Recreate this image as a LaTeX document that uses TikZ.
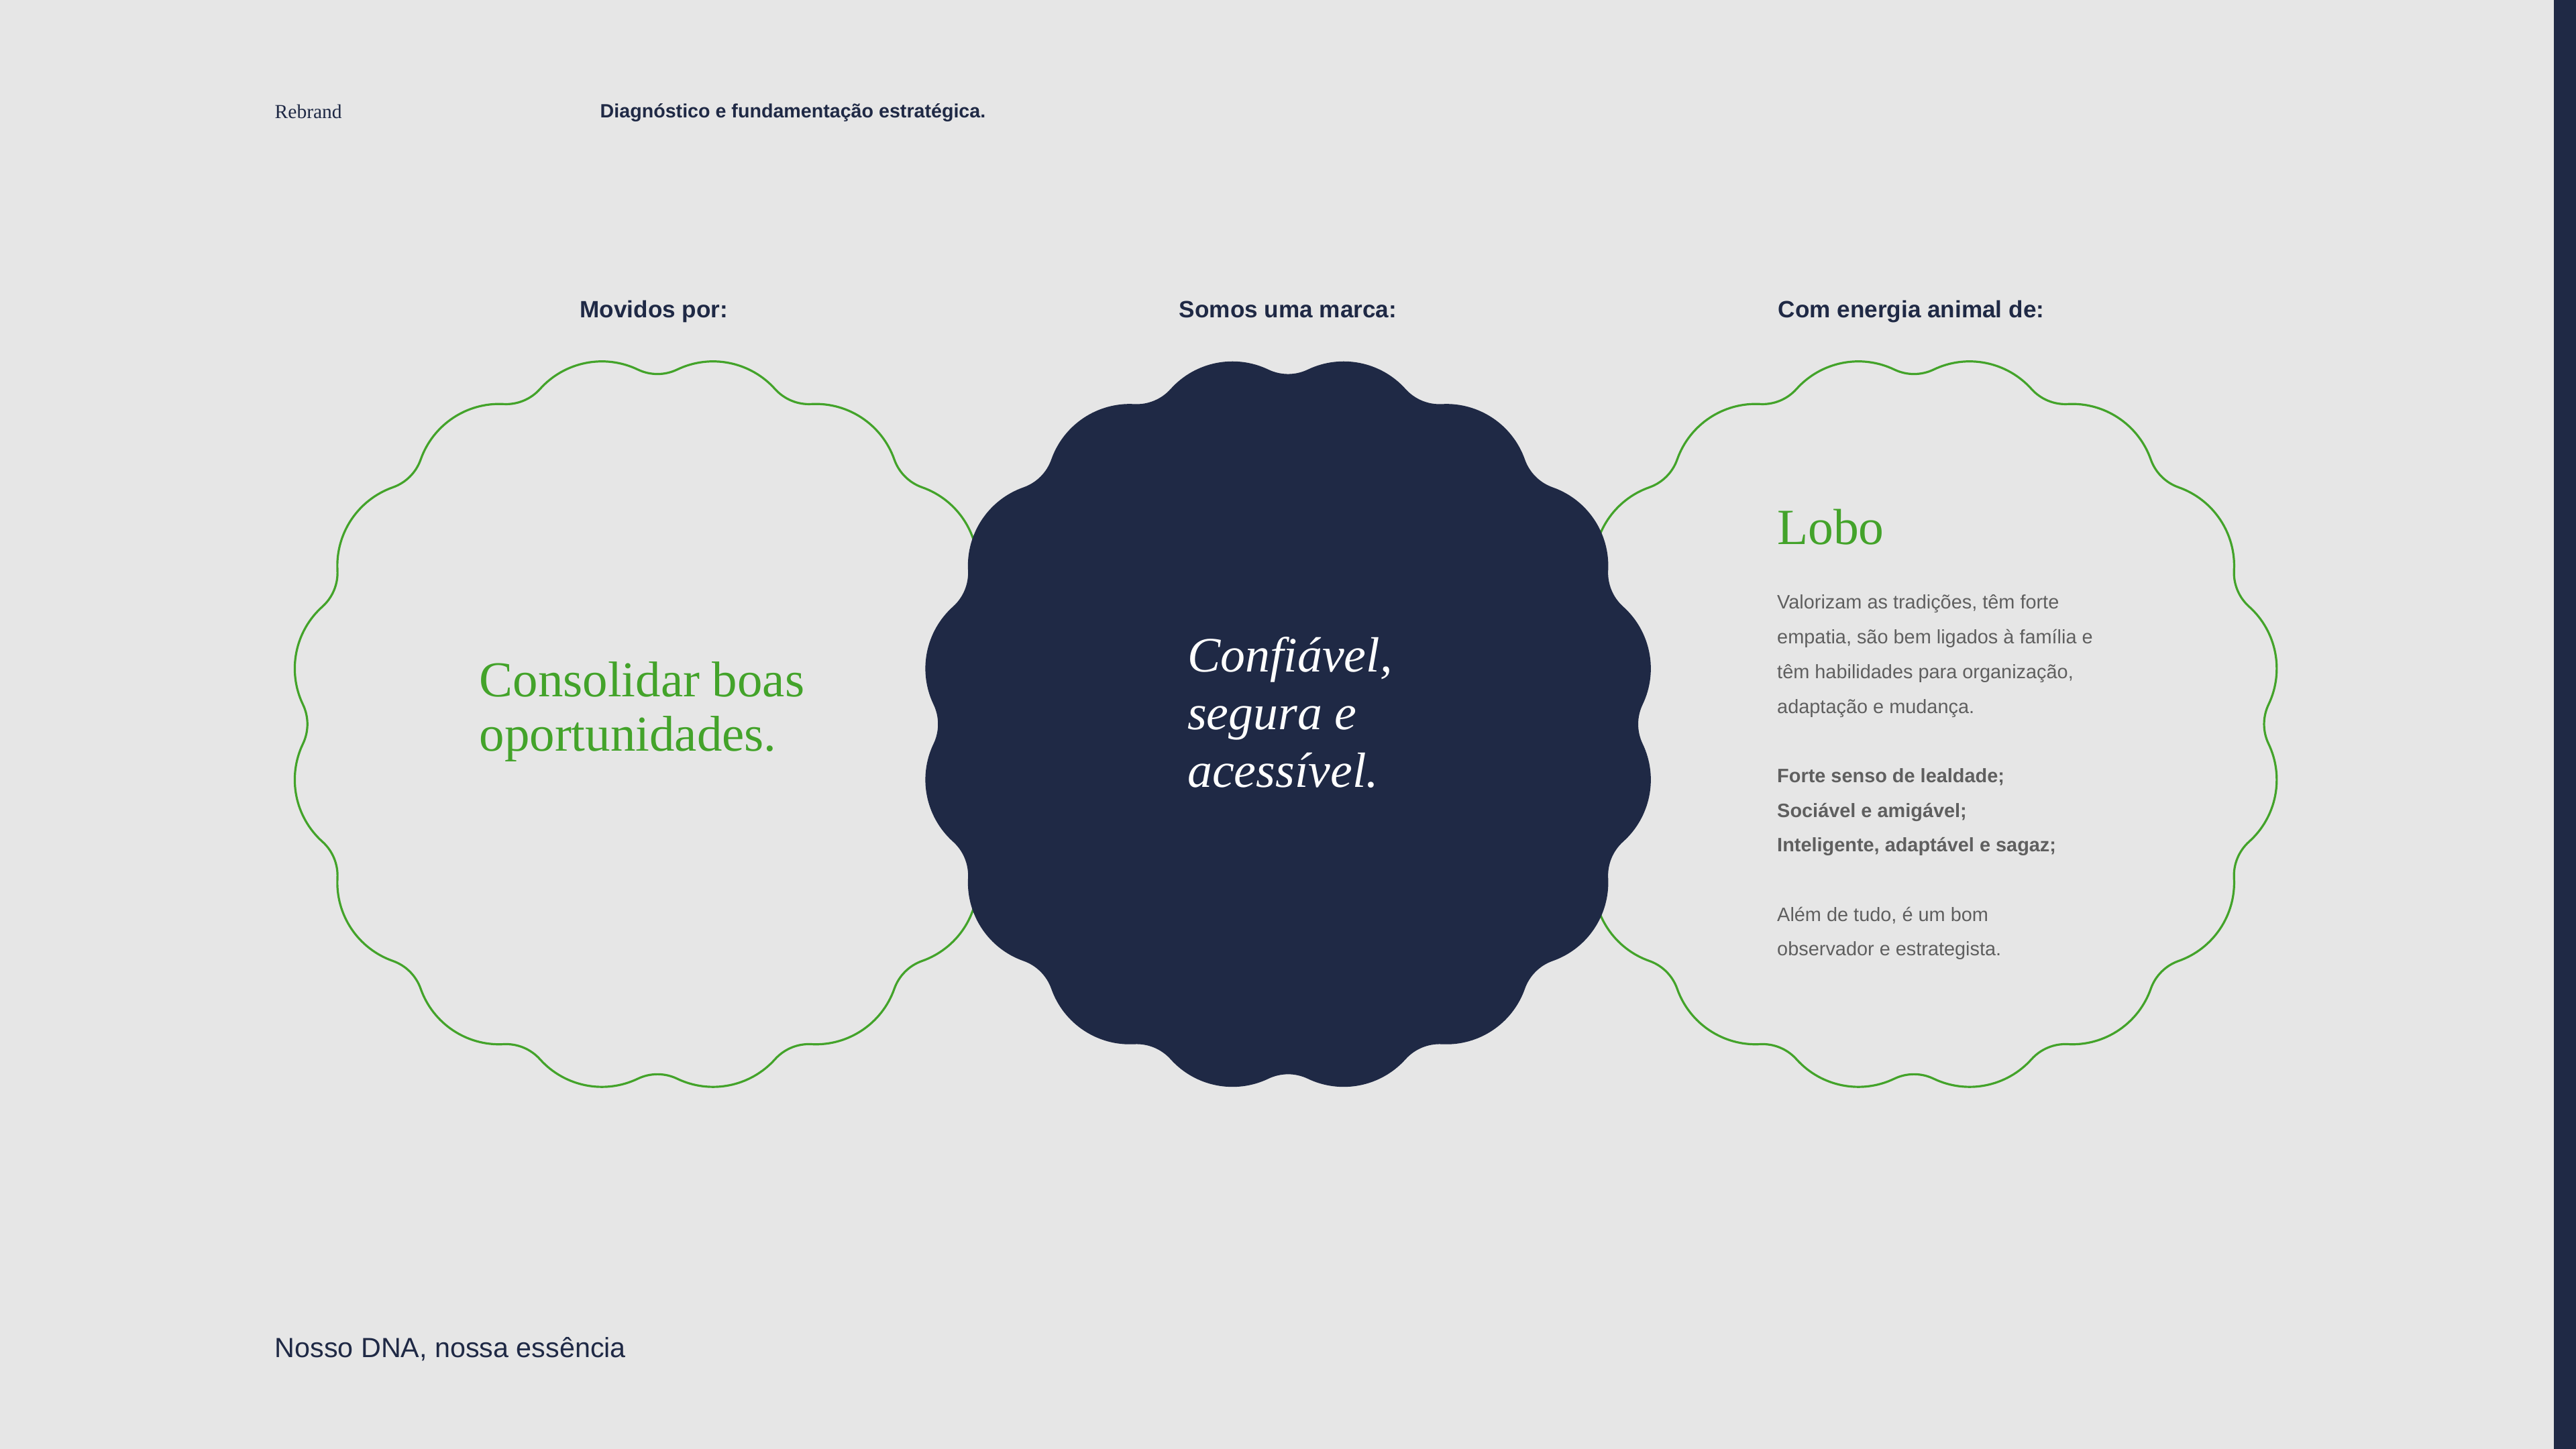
\documentclass[tikz,border=0pt]{standalone}
\usepackage{fontspec}
\setmainfont{Liberation Serif}
\setsansfont{Liberation Sans}
\usetikzlibrary{positioning}

\definecolor{paper}{HTML}{E6E6E6}
\definecolor{navy}{HTML}{1F2945}
\definecolor{leaf}{HTML}{43A32A}
\definecolor{ink}{HTML}{5F5F5F}

% 16-lobed wavy badge, drawn around the pic origin
\tikzset{
  scallop/.pic={
    \path[pic actions] (5.2867,0.2935)
      \foreach \k in {0,...,15}{
        arc[start angle=\k*22.5-25.59, end angle=\k*22.5+48.09, radius=1.24]
        arc[start angle=\k*22.5+228.09, end angle=\k*22.5+176.91, radius=0.6792]
      } -- cycle;
  }
}

\begin{document}
\begin{tikzpicture}[
        every node/.style={inner sep=0pt},
        headline/.style={anchor=base, text=navy,
          font=\sffamily\bfseries\fontsize{10pt}{12pt}\selectfont},
        wavyline/.style={draw=leaf, line width=0.032cm},
        darkblob/.style={fill=navy}
    ]
        % Page and side strip
        \useasboundingbox (0,0) rectangle (38.4,21.6);
        \fill[paper] (0,0) rectangle (38.4,21.6);
        \fill[navy] (38.07,0) rectangle (38.4,21.6);

        % Badge centres
        \coordinate (c1) at (9.80,10.805);
        \coordinate (c2) at (19.20,10.805);
        \coordinate (c3) at (28.53,10.805);

        % Outlined badges first, the filled one covers them
        \pic[wavyline] at (c1) {scallop};
        \pic[wavyline] at (c3) {scallop};
        \pic[darkblob] at (c2) {scallop};

        % Header line
        \node (brand) [anchor=base west, text=navy, font=\fontsize{8.4pt}{10pt}\selectfont]
            at (4.09,19.833) {Rebrand};
        \node (topic) [anchor=base west, text=navy, font=\sffamily\bfseries\fontsize{8.15pt}{10pt}\selectfont]
            at (8.94,19.843) {Diagnóstico e fundamentação estratégica.};

        % Column titles
        \node (movidos) [headline] at (9.75,16.86)  {Movidos por:};
        \node (somos)   [headline] at (19.20,16.86) {Somos uma marca:};
        \node (energia) [headline] at (28.49,16.86) {Com energia animal de:};

        % Badge texts (multi-line nodes sit on their last baseline)
        \node (consolidar) [anchor=base west, align=left, text=leaf,
            font=\fontsize{21.3pt}{23.3pt}\selectfont]
            at (7.14,10.40) {Consolidar boas\\oportunidades.};
        \node (confiavel) [anchor=base west, align=left, text=white,
            font=\itshape\fontsize{21pt}{24.6pt}\selectfont]
            at (17.695,9.86) {Confiável,\\segura e\\acessível.};
        \node (lobo) [anchor=base west, text=leaf, font=\fontsize{21.5pt}{25pt}\selectfont]
            at (26.485,13.48) {Lobo};
        \node (traits) [anchor=base west, align=left, text=ink,
            font=\sffamily\fontsize{8.22pt}{14.71pt}\selectfont]
            at (26.485,7.35) {Valorizam as tradições, têm forte\\
                empatia, são bem ligados à família e\\
                têm habilidades para organização,\\
                adaptação e mudança.\\[14.71pt]
                \textbf{Forte senso de lealdade;}\\
                \textbf{Sociável e amigável;}\\
                \textbf{Inteligente, adaptável e sagaz;}\\[14.71pt]
                Além de tudo, é um bom\\
                observador e estrategista.};

        % Footer
        \node (dna) [anchor=base west, text=navy, font=\sffamily\fontsize{11.75pt}{14pt}\selectfont]
            at (4.09,1.36) {Nosso DNA, nossa essência};

    \end{tikzpicture}
\end{document}
